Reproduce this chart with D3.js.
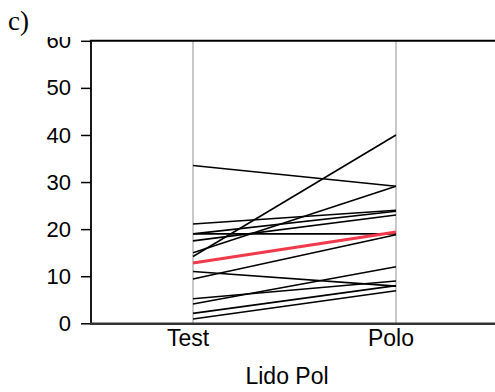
<!DOCTYPE html>
<html>
<head>
<meta charset="utf-8">
<script src="https://cdn.jsdelivr.net/npm/d3@7"></script>
<style>
  body { margin: 0; background: #fff; }
  svg { display: block; }
  .tick text { font-family: "Liberation Sans", Arial, sans-serif; }
</style>
</head>
<body>
<div id="chart"></div>
<script>
// paired values, one line per subject
const categories = ["Test", "Polo"];
const testValues = [33.5, 21.1, 19.0, 19.0, 17.5, 15.0, 14.2, 11.0, 9.4, 5.2, 4.1, 2.1, 0.9];
const poloValues = [29.1, 24.0, 19.0, 23.8, 23.0, 29.1, 40.0, 7.9, 18.8, 9.0, 12.0, 8.0, 6.9];
const highlight = [12.8, 19.4];
const yTicks = [0, 10, 20, 30, 40, 50, 60];

const width = 495, height = 392;

let svg = d3.select("#chart").append("svg")
    .attr("width", width)
    .attr("height", height);

// x: categories at 1 and 2, plot runs to the right edge (cropped)
let x = d3.scaleLinear().domain([0.5, 2.5]).range([91.5, 497.5]);
let y = d3.scaleLinear().domain([0, 60]).range([323.3, 40.8]);

// grey category guides
svg.selectAll(".guide")
    .data(categories).enter()
    .append("line")
    .attr("class", "guide")
    .attr("x1", (d, i) => x(i + 1))
    .attr("x2", (d, i) => x(i + 1))
    .attr("y1", y(60))
    .attr("y2", y(0))
    .attr("stroke", "#c8c8c8")
    .attr("stroke-width", 2);

let pairs = testValues.map((v, i) => [v, poloValues[i]]);

svg.selectAll(".pair")
    .data(pairs).enter()
    .append("line")
    .attr("class", "pair")
    .attr("x1", x(1))
    .attr("x2", x(2))
    .attr("y1", d => y(d[0]))
    .attr("y2", d => y(d[1]))
    .attr("stroke", "#000")
    .attr("stroke-width", 1.6);

svg.append("line")
    .attr("x1", x(1))
    .attr("x2", x(2))
    .attr("y1", y(highlight[0]))
    .attr("y2", y(highlight[1]))
    .attr("stroke", "#f03a4c")
    .attr("stroke-width", 3.2);

// clip so the top label gets cut like in the figure
svg.append("clipPath").attr("id", "yclip")
    .append("rect").attr("x", -95).attr("y", 37).attr("width", 100).attr("height", 360);

let yAxis = svg.append("g")
    .attr("transform", "translate(91,0)")
    .attr("clip-path", "url(#yclip)")
    .call(d3.axisLeft(y).tickValues(yTicks).tickSize(10).tickPadding(10).tickFormat(d3.format("d")));
yAxis.select(".domain").remove();
yAxis.selectAll(".tick line").attr("stroke", "#000").attr("stroke-width", 1.5);
yAxis.selectAll(".tick text").attr("font-size", 22).attr("fill", "#000");

// frame lines
svg.append("line")
    .attr("x1", 91).attr("x2", 91)
    .attr("y1", y(60)).attr("y2", y(0))
    .attr("stroke", "#000").attr("stroke-width", 1.8);
svg.append("line")
    .attr("x1", 90).attr("x2", width)
    .attr("y1", y(60)).attr("y2", y(60))
    .attr("stroke", "#000").attr("stroke-width", 2);
svg.append("line")
    .attr("x1", 90).attr("x2", width)
    .attr("y1", y(0) + 0.5).attr("y2", y(0) + 0.5)
    .attr("stroke", "#333").attr("stroke-width", 2.4);

// category labels
svg.selectAll(".cat")
    .data(categories).enter()
    .append("text")
    .attr("class", "cat")
    .attr("x", (d, i) => x(i + 1) - 5)
    .attr("y", 346)
    .attr("text-anchor", "middle")
    .attr("font-family", "Liberation Sans, Arial, sans-serif")
    .attr("font-size", 23)
    .text(d => d);

svg.append("text")
    .attr("x", 287)
    .attr("y", 384)
    .attr("text-anchor", "middle")
    .attr("font-family", "Liberation Sans, Arial, sans-serif")
    .attr("font-size", 23)
    .text("Lido Pol");

svg.append("text")
    .attr("x", 8)
    .attr("y", 30)
    .attr("font-family", "Liberation Serif, Times New Roman, serif")
    .attr("font-size", 27)
    .text("c)");
</script>
</body>
</html>
